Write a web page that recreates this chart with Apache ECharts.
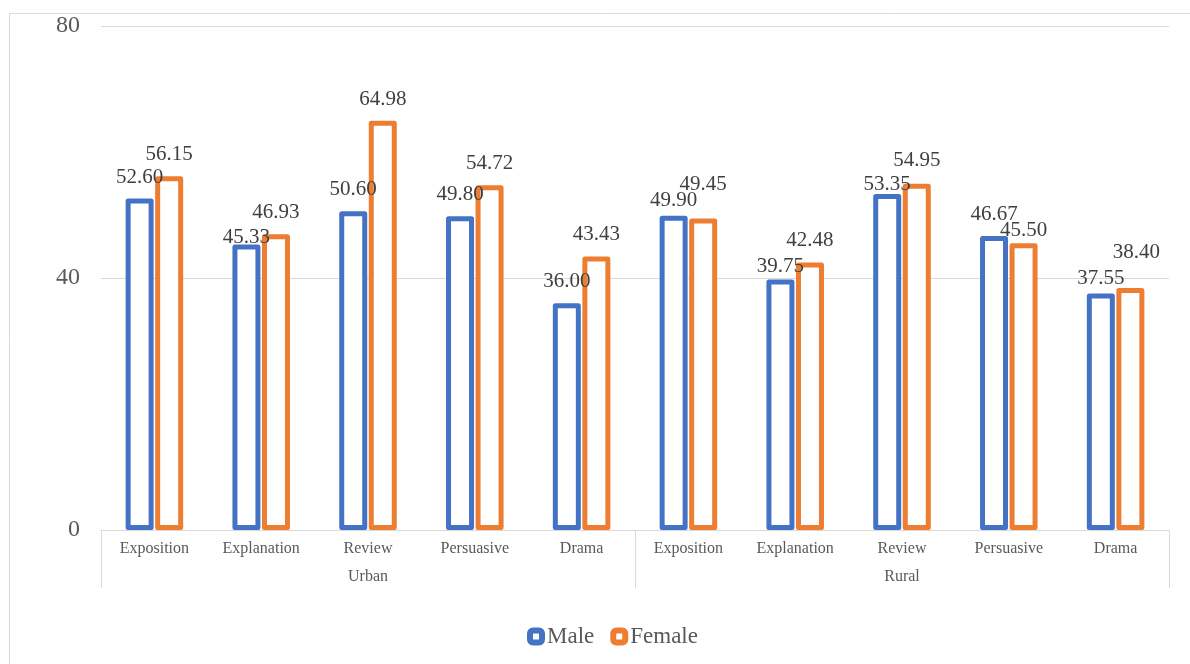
<!DOCTYPE html>
<html>
<head>
<meta charset="utf-8">
<style>
    html, body { margin: 0; padding: 0; background: #fff; }
    #chart { width: 1190px; height: 664px; }
</style>
<script src="https://cdn.jsdelivr.net/npm/echarts@6/dist/echarts.min.js"></script>
</head>
<body>
<div id="chart"></div>
<script type="text/javascript">
// data
let genres = ['Exposition', 'Explanation', 'Review', 'Persuasive', 'Drama',
    'Exposition', 'Explanation', 'Review', 'Persuasive', 'Drama'];
let areas = ['Urban', 'Rural'];
let maleScores = [52.60, 45.33, 50.60, 49.80, 36.00, 49.90, 39.75, 53.35, 46.67, 37.55];
let femaleScores = [56.15, 46.93, 64.98, 54.72, 43.43, 49.45, 42.48, 54.95, 45.50, 38.40];
let yTicks = [0, 40, 80];

// label nudges (px) so the values sit where the original put them
let maleLabelNudge = [[0, 0], [0, 15], [0, 0], [0, 0], [0, 0], [0, 6], [0, 8], [0, 12], [0, 0], [0, 7]];
let femaleLabelNudge = [[0, 0], [0, 0], [0, 0], [0, 0], [0, 0], [0, -12], [0, 0], [0, -2], [0, 9], [6, -14]];

const serif = 'Liberation Serif';
const gridCol = '#d9d9d9';

function barSeries (name, values, nudge, color) {
    return {
        name: name,
        type: 'bar',
        barWidth: 28,
        barGap: '5.5%',
        itemStyle: {
            color: '#fff',
            borderColor: color,
            borderWidth: 5,
            borderJoin: 'round'
        },
        label: {
            show: true,
            position: 'top',
            distance: 11,
            fontFamily: serif,
            fontSize: 21,
            color: '#404040',
            formatter: p => p.value.toFixed(2)
        },
        data: values.map((v, i) => ({ value: v, label: { offset: nudge[i] } }))
    };
}

let mainChart = echarts.init(document.getElementById('chart'));
mainChart.setOption({
    animation: false,
    backgroundColor: '#fff',
    graphic: [{
        type: 'rect',
        shape: { x: 9.5, y: 13.5, width: 1200, height: 700 },
        style: { fill: 'none', stroke: gridCol, lineWidth: 1 },
        silent: true
    }],
    legend: {
        left: 522,
        top: 620,
        itemWidth: 12,
        itemHeight: 12,
        itemGap: 16,
        itemStyle: { borderWidth: 6 },
        textStyle: { fontFamily: serif, fontSize: 23, color: '#595959' },
        data: ['Male', 'Female']
    },
    grid: {
        left: 101,
        right: 21,
        top: 26,
        bottom: 134
    },
    xAxis: [
        {
            type: 'category',
            data: genres,
            axisLine: { lineStyle: { color: gridCol } },
            axisTick: { show: false },
            axisLabel: { interval: 0, margin: 11, fontFamily: serif, fontSize: 16, color: '#595959' }
        },
        {
            type: 'category',
            data: areas,
            position: 'bottom',
            axisLine: { show: false },
            axisTick: { show: true, length: 58, lineStyle: { color: gridCol } },
            axisLabel: { interval: 0, margin: 39, fontFamily: serif, fontSize: 16, color: '#595959' }
        }
    ],
    yAxis: {
        type: 'value',
        min: yTicks[0],
        max: yTicks[yTicks.length - 1],
        interval: yTicks[1] - yTicks[0],
        axisLine: { show: false },
        axisTick: { show: false },
        splitLine: { lineStyle: { color: gridCol } },
        axisLabel: { margin: 21, fontFamily: serif, fontSize: 24, color: '#595959' }
    },
    series: [
        barSeries('Male', maleScores, maleLabelNudge, '#4472C4'),
        barSeries('Female', femaleScores, femaleLabelNudge, '#ED7D31')
    ]
});
</script>
</body>
</html>
